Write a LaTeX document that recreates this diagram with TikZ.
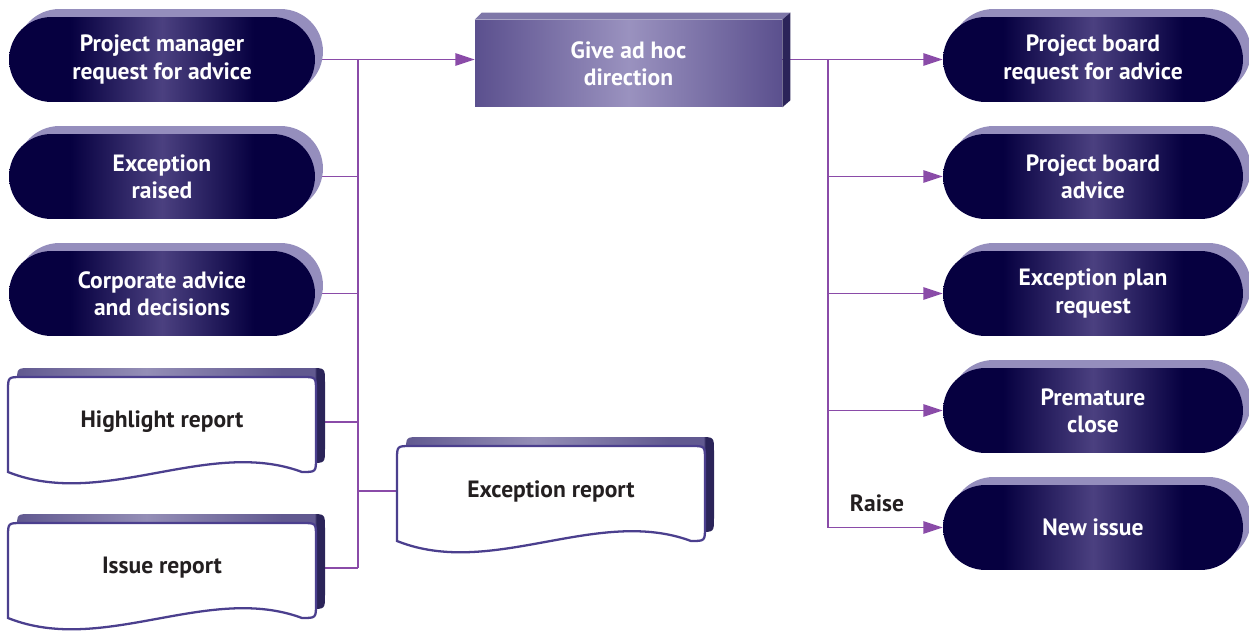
\documentclass[tikz,border=0pt]{standalone}
\usepackage{fontspec}
\setmainfont{PT Sans}
\usetikzlibrary{arrows.meta,backgrounds,calc}

\definecolor{pillnavy}{HTML}{060040}
\definecolor{pillmid}{HTML}{4B4080}
\definecolor{pillback}{HTML}{958EBD}
\definecolor{diredge}{HTML}{5B508E}
\definecolor{dirmid}{HTML}{9A92BF}
\definecolor{dirtop}{HTML}{7E77A8}
\definecolor{dirside}{HTML}{2B2459}
\definecolor{docline}{HTML}{4B3F8E}
\definecolor{docband}{HTML}{615990}
\definecolor{docbandlight}{HTML}{948EB6}
\definecolor{docside}{HTML}{2B2459}
\definecolor{flowcol}{HTML}{8A4BA8}
\definecolor{textdark}{HTML}{231F20}

\pgfdeclarehorizontalshading{pillshade}{100bp}{color(0bp)=(pillnavy); color(35bp)=(pillnavy); color(50bp)=(pillmid); color(65bp)=(pillnavy); color(100bp)=(pillnavy)}
\pgfdeclarehorizontalshading{docshade}{100bp}{color(0bp)=(docband); color(25bp)=(docband); color(46bp)=(docbandlight); color(68bp)=(docband); color(73.3bp)=(docband); color(73.6bp)=(docside); color(100bp)=(docside)}

\tikzset{
  boxfont/.style={font=\bfseries\fontsize{13.4}{15.4}\selectfont, align=center},
  pill/.style={boxfont, shade, shading=pillshade, rounded corners=0.85cm, minimum width=6.12cm, minimum height=1.7cm, inner sep=0pt, text=white},
  pillshadow/.style={fill=pillback, rounded corners=0.85cm, minimum width=6.12cm, minimum height=1.7cm, inner sep=0pt},
  rpill/.style={pill, minimum width=6cm},
  rpillshadow/.style={pillshadow, minimum width=6cm},
  dirbox/.style={boxfont, left color=diredge, right color=diredge, middle color=dirmid, minimum width=6.14cm, minimum height=1.74cm, inner sep=0pt, text=white},
  doctext/.style={boxfont, text=textdark, minimum width=6.16cm, minimum height=1.2cm, inner sep=0pt},
  flow/.style={draw=flowcol, line width=1.1pt},
  flowarrow/.style={flow, -{Triangle[length=11pt, width=7pt]}},
  docshape/.pic={
    \shade[shading=docshade] (9,5) .. controls (9,-9) .. (23,-9) -- (303,-9) .. controls (317,-9) .. (317,5) -- (317,72) .. controls (317,86) .. (303,86) .. controls (209,51) and (104,124) .. (9,86) -- cycle;
    \filldraw[fill=white, draw=docline, line width=1.3pt] (0,14) .. controls (0,0) .. (14,0) -- (294,0) .. controls (308,0) .. (308,14) -- (308,81) .. controls (308,95) .. (294,95) .. controls (200,60) and (95,133) .. (0,95) -- cycle;
  }
}

\begin{document}
\begin{tikzpicture}[x=0.02cm, y=-0.02cm]
\useasboundingbox (0,0) rectangle (1249,632);

% inputs on the left
\foreach \y/\name/\txt in {59.5/pm/{Project manager\\request for advice}, 176.5/exr/{Exception\\raised}, 293.5/cad/{Corporate advice\\and decisions}} {
  \node[pillshadow] at (170,\y-8) {};
  \node[pill] (\name) at (162,\y) {\txt};
}
\foreach \x/\y/\name/\txt in {8/377/hr/Highlight report, 8/523/ir/Issue report, 397/446/er/Exception report} {
  \pic at (\x,\y) {docshape};
  \node[doctext] (\name) at (\x+154,\y+45) {\txt};
}

% the activity
\node[dirbox] (gahd) at (628.5,63.5) {Give ad hoc\\direction};
\fill[dirtop] (gahd.north west) -- ++(7,-7) -- ($(gahd.north east)+(8,-7)$) -- (gahd.north east) -- cycle;
\fill[dirside] (gahd.north east) -- ++(8,-7) -- ($(gahd.south east)+(8,-7)$) -- (gahd.south east) -- cycle;

% outputs on the right
\foreach \y/\name/\txt in {59.5/pbr/{Project board\\request for advice}, 176.5/pba/{Project board\\advice}, 293.5/epr/{Exception plan\\request}, 410.5/pmc/{Premature\\close}, 527.5/ni/{New issue}} {
  \node[rpillshadow] at (1101,\y-8) {};
  \node[rpill] (\name) at (1093,\y) {\txt};
}
\node[boxfont, text=textdark] (raise) at (877,503) {Raise};

% connectors
\begin{pgfonlayer}{background}
\coordinate (lt) at (358,59.5);
\coordinate (rt) at (828,59.5);
\draw[flowarrow] (pm.east) -- (pm.east -| gahd.west);
\draw[flow] (lt) -- (lt |- ir.east);
\foreach \n in {exr,cad,hr,ir} \draw[flow] (\n.east) -- (\n.east -| lt);
\draw[flow] (er.west -| lt) -- (er.west);
\draw[flow] (gahd.east |- rt) -- (rt) -- (rt |- ni.west);
\foreach \n in {pbr,pba,epr,pmc,ni} \draw[flowarrow] (\n.west -| rt) -- (\n.west);
\end{pgfonlayer}
\end{tikzpicture}
\end{document}
